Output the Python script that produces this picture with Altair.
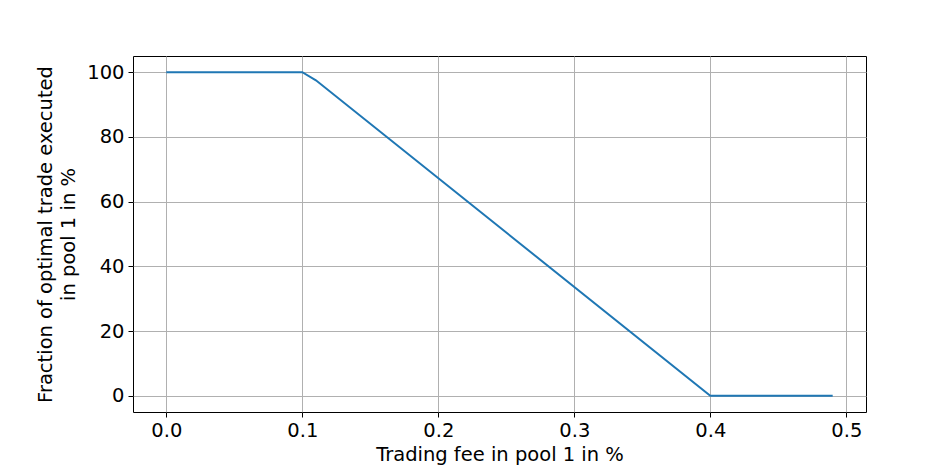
import altair as alt
import pandas as pd

fee = [0.0, 0.1, 0.11, 0.4, 0.49]
fraction = [100.0, 100.0, 97.5, 0.0, 0.0]
x_ticks = [0.0, 0.1, 0.2, 0.3, 0.4, 0.5]
y_ticks = [0, 20, 40, 60, 80, 100]

df = pd.DataFrame({"fee": fee, "fraction": fraction})

chart = (
    alt.Chart(df)
    .mark_line(color="#1f77b4", strokeWidth=2)
    .encode(
        x=alt.X(
            "fee:Q",
            scale=alt.Scale(domain=[-0.0245, 0.5145], nice=False, zero=False),
            axis=alt.Axis(values=x_ticks, format=".1f", title="Trading fee in pool 1 in %",
                          titlePadding=6),
        ),
        y=alt.Y(
            "fraction:Q",
            scale=alt.Scale(domain=[-5, 105], nice=False, zero=False),
            axis=alt.Axis(values=y_ticks, format="d",
                          title=["Fraction of optimal trade executed", "in pool 1 in %"],
                          titlePadding=8),
        ),
    )
    .properties(
        width=733,
        height=356,
        autosize=alt.AutoSizeParams(type="none"),
        padding={"left": 125, "top": 48, "right": 53, "bottom": 58},
    )
    .configure(font="DejaVu Sans")
    .configure_view(stroke="black", strokeWidth=1)
    .configure_axis(
        labelFont="DejaVu Sans",
        titleFont="DejaVu Sans",
        labelFontSize=19.5,
        titleFontSize=19.5,
        titleFontWeight="normal",
        labelColor="black",
        titleColor="black",
        tickColor="black",
        tickSize=5,
        tickWidth=1,
        labelPadding=4,
        domain=False,
        grid=True,
        gridColor="#b0b0b0",
        gridWidth=1,
        gridOpacity=1,
        titleLineHeight=23,
    )
)

chart.save("out.html", embed_options={"renderer": "svg", "actions": False})
